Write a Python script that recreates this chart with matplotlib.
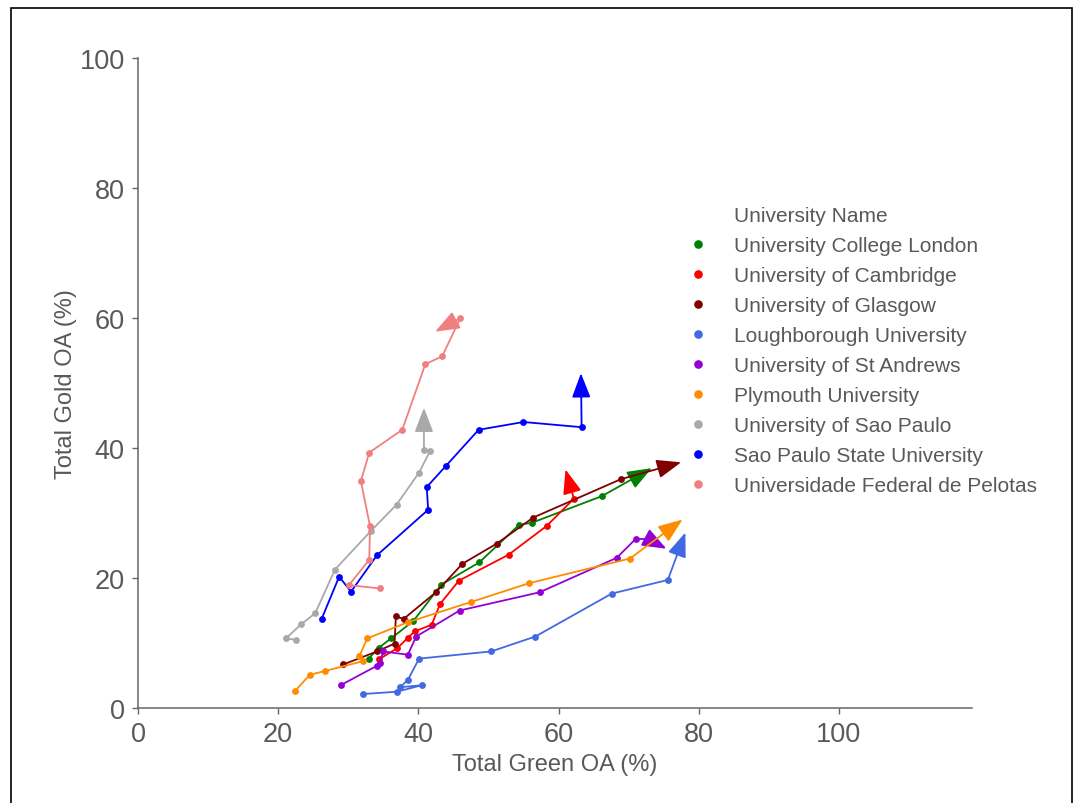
import matplotlib
matplotlib.use("Agg")
import matplotlib.pyplot as plt
from matplotlib.lines import Line2D
from matplotlib.patches import Rectangle

plt.rcParams['font.family'] = ['Liberation Sans', 'DejaVu Sans']

universities = [
    "University College London",
    "University of Cambridge",
    "University of Glasgow",
    "Loughborough University",
    "University of St Andrews",
    "Plymouth University",
    "University of Sao Paulo",
    "Sao Paulo State University",
    "Universidade Federal de Pelotas",
]
colors = ["green", "red", "maroon", "royalblue", "darkviolet",
          "darkorange", "darkgray", "blue", "lightcoral"]

# Total Green OA (%) per year
ucl_x = [32.9, 34.4, 36.1, 39.3, 43.3, 48.7, 54.4, 56.2, 66.2]
cam_x = [34.4, 37.0, 38.5, 39.5, 41.9, 43.1, 45.8, 52.9, 58.3, 62.2]
gla_x = [29.3, 34.1, 36.6, 36.8, 37.9, 42.5, 46.3, 51.2, 56.4, 68.9]
lou_x = [32.1, 36.9, 40.5, 37.4, 38.5, 40.1, 50.4, 56.7, 67.6, 75.6]
sta_x = [28.9, 34.1, 34.5, 35.0, 38.5, 39.7, 45.9, 57.3, 68.3, 71.0, 72.8]
ply_x = [22.4, 24.5, 26.7, 32.1, 31.6, 32.7, 38.5, 47.5, 55.8, 70.2]
usp_x = [22.5, 21.1, 23.3, 25.3, 28.1, 33.2, 36.9, 40.1, 41.7, 40.8]
unesp_x = [26.2, 28.7, 30.4, 34.1, 41.4, 41.2, 43.9, 48.6, 55.0, 63.3]
ufpel_x = [34.5, 30.1, 33.0, 33.1, 31.8, 33.0, 37.7, 41.0, 43.4, 46.0]

# Total Gold OA (%) per year
ucl_y = [7.6, 9.3, 10.7, 13.4, 19.0, 22.4, 28.2, 28.5, 32.6]
cam_y = [7.5, 9.2, 10.8, 11.8, 12.8, 16.0, 19.6, 23.6, 28.0, 32.2]
gla_y = [6.7, 8.7, 9.9, 14.1, 13.7, 17.8, 22.2, 25.3, 29.3, 35.2]
lou_y = [2.15, 2.5, 3.5, 3.2, 4.3, 7.6, 8.7, 11.0, 17.6, 19.7]
sta_y = [3.5, 6.5, 7.0, 8.7, 8.2, 11.0, 15.0, 17.8, 23.1, 26.0, 26.0]
ply_y = [2.6, 5.1, 5.7, 7.2, 8.0, 10.7, 13.2, 16.3, 19.2, 23.0]
usp_y = [10.5, 10.7, 12.9, 14.6, 21.3, 27.2, 31.3, 36.2, 39.6, 39.7]
unesp_y = [13.7, 20.2, 17.9, 23.5, 30.5, 34.0, 37.2, 42.8, 44.0, 43.2]
ufpel_y = [18.4, 18.9, 22.8, 28.0, 34.9, 39.3, 42.8, 52.9, 54.1, 60.0]

# Arrow tips (final direction)
arrow_x = [73.3, 61.0, 77.5, 78.1, 75.4, 77.7, 40.8, 63.2, 42.4]
arrow_y = [36.9, 36.7, 37.8, 27.0, 24.5, 29.0, 46.2, 51.5, 57.9]

xs = [ucl_x, cam_x, gla_x, lou_x, sta_x, ply_x, usp_x, unesp_x, ufpel_x]
ys = [ucl_y, cam_y, gla_y, lou_y, sta_y, ply_y, usp_y, unesp_y, ufpel_y]

W, H = 1078, 804
fig = plt.figure(figsize=(W / 100, H / 100), dpi=100)
ax = fig.add_axes([138 / W, 1 - 709 / H, (972 - 138) / W, (709 - 59) / H])

text_color = "#595959"
spine_color = "#666666"

for x, y, c, ax_, ay_ in zip(xs, ys, colors, arrow_x, arrow_y):
    ax.plot(x, y, color=c, lw=1.3, marker="o", ms=3.9, zorder=2)
    ax.annotate("", xy=(ax_, ay_), xytext=(x[-1], y[-1]),
                arrowprops=dict(arrowstyle="-|>,head_length=0.6,head_width=0.23",
                                mutation_scale=25, color=c, lw=1.3,
                                shrinkA=0, shrinkB=0),
                zorder=3)

ax.set_xlim(0, 119)
ax.set_ylim(0, 100)
ax.set_xticks([0, 20, 40, 60, 80, 100])
ax.set_yticks([0, 20, 40, 60, 80, 100])
for s in ["top", "right"]:
    ax.spines[s].set_visible(False)
for s in ["left", "bottom"]:
    ax.spines[s].set_color(spine_color)
    ax.spines[s].set_linewidth(1.1)
ax.tick_params(axis="both", colors=spine_color, labelcolor=text_color,
               labelsize=19.5, length=4.5, width=1.0, pad=5)
ax.set_xlabel("Total Green OA (%)", fontsize=17, color=text_color, labelpad=4)
ax.set_ylabel("Total Gold OA (%)", fontsize=17, color=text_color, labelpad=2)

handles = [Line2D([], [], linestyle="none", marker="none")]
handles += [Line2D([], [], linestyle="none", marker="o", ms=5.2, color=c)
            for c in colors]
labels = ["University Name"] + universities
leg = fig.legend(handles, labels, loc="upper left",
                 bbox_to_anchor=(687.6 / W, 1 - 207 / H),
                 frameon=False, fontsize=15, handlelength=1.0,
                 handletextpad=1.25, labelspacing=0.53, borderpad=0,
                 borderaxespad=0)
for t in leg.get_texts():
    t.set_color(text_color)

fig.patches.append(Rectangle((11 / W, -0.05), (1072 - 11) / W, (804 - 9) / H + 0.05,
                             transform=fig.transFigure, fill=False,
                             edgecolor="black", lw=1.2, clip_on=False))

fig.savefig("out.png", dpi=100)
